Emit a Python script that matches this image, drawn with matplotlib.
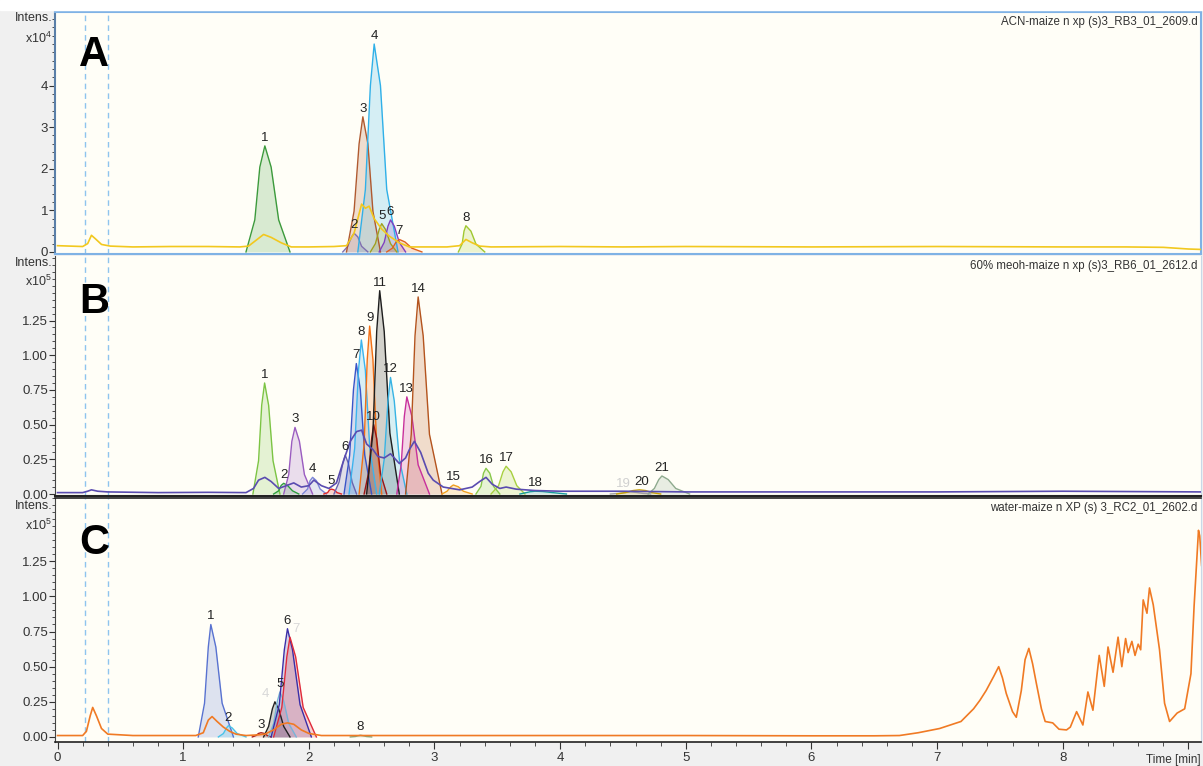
import matplotlib
matplotlib.use('Agg')
import matplotlib.pyplot as plt
from matplotlib.ticker import MultipleLocator

plt.rcParams['font.family'] = ['Liberation Sans', 'DejaVu Sans']
plt.rcParams['mathtext.default'] = 'regular'

# ---------------- data (time [min], intensity) ----------------
# Panel A (x10^4)
A_title = "ACN-maize n xp (s)3_RB3_01_2609.d"
A_labels = ['1', '2', '3', '4', '5', '6', '7', '8']
A_peaks = [
    [(1.50, 0), (1.57, 0.77), (1.61, 2.04), (1.65, 2.55), (1.70, 2.04), (1.76, 0.77), (1.85, 0)],
    [(2.27, 0), (2.31, 0.135), (2.34, 0.36), (2.36, 0.45), (2.39, 0.36), (2.42, 0.135), (2.47, 0)],
    [(2.30, 0), (2.36, 0.98), (2.40, 2.6), (2.43, 3.25), (2.47, 2.6), (2.51, 0.98), (2.57, 0)],
    [(2.39, 0), (2.45, 1.5), (2.49, 4.0), (2.52, 5.0), (2.57, 4.0), (2.62, 1.5), (2.71, 0)],
    [(2.49, 0), (2.53, 0.2), (2.56, 0.54), (2.58, 0.68), (2.61, 0.54), (2.65, 0.2), (2.70, 0)],
    [(2.56, 0), (2.60, 0.23), (2.63, 0.62), (2.65, 0.77), (2.68, 0.62), (2.72, 0.23), (2.77, 0)],
    [(2.62, 0), (2.665, 0.09), (2.695, 0.24), (2.72, 0.30), (2.765, 0.24), (2.82, 0.09), (2.90, 0)],
    [(3.19, 0), (3.22, 0.19), (3.235, 0.5), (3.25, 0.63), (3.29, 0.5), (3.33, 0.19), (3.40, 0)],
]
A_tic = [(0.0, 0.15), (0.1, 0.14), (0.2, 0.13), (0.24, 0.2), (0.27, 0.4), (0.30, 0.32), (0.35, 0.18),
         (0.42, 0.14), (0.6, 0.12), (0.9, 0.13), (1.2, 0.13), (1.45, 0.12), (1.52, 0.14), (1.58, 0.28),
         (1.64, 0.42), (1.70, 0.35), (1.78, 0.22), (1.86, 0.12), (2.0, 0.12), (2.2, 0.13), (2.30, 0.15),
         (2.36, 0.45), (2.42, 1.15), (2.45, 1.05), (2.48, 1.1), (2.52, 0.8), (2.58, 0.55), (2.64, 0.38),
         (2.72, 0.22), (2.80, 0.12), (2.9, 0.12), (3.1, 0.12), (3.2, 0.15), (3.25, 0.30), (3.30, 0.22),
         (3.36, 0.14), (3.45, 0.12), (4.0, 0.13), (4.5, 0.12), (5.0, 0.13), (6.0, 0.12), (7.0, 0.13),
         (8.0, 0.12), (8.5, 0.12), (8.8, 0.11), (9.0, 0.07), (9.1, 0.06)]

# Panel B (x10^5)
B_title = "60% meoh-maize n xp (s)3_RB6_01_2612.d"
B_labels = ['1', '2', '3', '4', '5', '6', '7', '8', '9', '10', '11', '12', '13', '14', '15',
            '16', '17', '18', '19', '20', '21']
B_peaks = [
    [(1.555, 0), (1.60, 0.24), (1.625, 0.64), (1.648, 0.80), (1.68, 0.64), (1.715, 0.24), (1.77, 0)],
    [(1.72, 0), (1.76, 0.023), (1.78, 0.062), (1.80, 0.077), (1.83, 0.062), (1.87, 0.023), (1.92, 0)],
    [(1.80, 0), (1.84, 0.14), (1.865, 0.38), (1.89, 0.48), (1.925, 0.38), (1.965, 0.14), (2.03, 0)],
    [(1.95, 0), (1.99, 0.036), (2.01, 0.096), (2.03, 0.12), (2.06, 0.096), (2.09, 0.036), (2.14, 0)],
    [(2.12, 0), (2.15, 0.01), (2.165, 0.03), (2.18, 0.035), (2.20, 0.03), (2.225, 0.01), (2.26, 0)],
    [(2.20, 0), (2.24, 0.084), (2.27, 0.22), (2.29, 0.28), (2.315, 0.22), (2.345, 0.084), (2.38, 0)],
    [(2.28, 0), (2.325, 0.28), (2.355, 0.75), (2.378, 0.94), (2.41, 0.75), (2.445, 0.28), (2.50, 0)],
    [(2.32, 0), (2.365, 0.33), (2.395, 0.89), (2.418, 1.11), (2.45, 0.89), (2.485, 0.33), (2.54, 0)],
    [(2.40, 0), (2.44, 0.36), (2.465, 0.97), (2.484, 1.21), (2.51, 0.97), (2.54, 0.36), (2.58, 0)],
    [(2.44, 0), (2.475, 0.15), (2.50, 0.40), (2.516, 0.50), (2.54, 0.40), (2.57, 0.15), (2.62, 0)],
    [(2.46, 0), (2.51, 0.44), (2.54, 1.17), (2.564, 1.465), (2.60, 1.17), (2.645, 0.44), (2.72, 0)],
    [(2.56, 0), (2.60, 0.25), (2.63, 0.67), (2.65, 0.84), (2.68, 0.67), (2.72, 0.25), (2.78, 0)],
    [(2.70, 0), (2.735, 0.21), (2.76, 0.56), (2.78, 0.70), (2.82, 0.56), (2.87, 0.21), (2.96, 0)],
    [(2.77, 0), (2.815, 0.43), (2.845, 1.14), (2.87, 1.42), (2.91, 1.14), (2.96, 0.43), (3.06, 0)],
    [(3.06, 0), (3.10, 0.02), (3.13, 0.052), (3.15, 0.065), (3.19, 0.052), (3.23, 0.02), (3.30, 0)],
    [(3.33, 0), (3.37, 0.055), (3.39, 0.15), (3.41, 0.185), (3.44, 0.15), (3.47, 0.055), (3.52, 0)],
    [(3.45, 0), (3.51, 0.06), (3.545, 0.16), (3.57, 0.20), (3.61, 0.16), (3.655, 0.06), (3.72, 0)],
    [(3.68, 0), (3.72, 0.008), (3.76, 0.016), (3.80, 0.02), (3.86, 0.018), (3.94, 0.01), (4.05, 0)],
    [(4.40, 0), (4.46, 0.004), (4.52, 0.011), (4.56, 0.015), (4.61, 0.011), (4.66, 0.004), (4.72, 0)],
    [(4.45, 0), (4.52, 0.01), (4.58, 0.025), (4.63, 0.03), (4.68, 0.025), (4.73, 0.01), (4.80, 0)],
    [(4.70, 0), (4.75, 0.04), (4.785, 0.104), (4.81, 0.13), (4.86, 0.104), (4.92, 0.04), (5.03, 0)],
]
B_tic = [(0.0, 0.01), (0.2, 0.01), (0.24, 0.02), (0.27, 0.03), (0.32, 0.02), (0.40, 0.015), (0.8, 0.01),
         (1.2, 0.012), (1.5, 0.01), (1.56, 0.04), (1.60, 0.10), (1.65, 0.12), (1.70, 0.09), (1.76, 0.04),
         (1.82, 0.06), (1.88, 0.08), (1.94, 0.05), (2.0, 0.06), (2.04, 0.10), (2.10, 0.06), (2.16, 0.04),
         (2.22, 0.08), (2.28, 0.25), (2.33, 0.38), (2.38, 0.45), (2.42, 0.46), (2.46, 0.36), (2.51, 0.32),
         (2.55, 0.27), (2.60, 0.26), (2.65, 0.29), (2.72, 0.22), (2.77, 0.26), (2.80, 0.32), (2.84, 0.38),
         (2.89, 0.30), (2.95, 0.15), (2.99, 0.10), (3.07, 0.05), (3.2, 0.03), (3.3, 0.05), (3.36, 0.09),
         (3.41, 0.12), (3.46, 0.07), (3.52, 0.04), (3.57, 0.05), (3.65, 0.035), (3.8, 0.025), (4.0, 0.02),
         (4.5, 0.02), (5.0, 0.015), (6.0, 0.015), (7.0, 0.015), (8.0, 0.02), (9.1, 0.015)]

# Panel C (x10^5)
C_title = "water-maize n XP (s) 3_RC2_01_2602.d"
C_labels = ['1', '2', '3', '4', '5', '6', '7', '8']
C_peaks = [
    [(1.12, 0), (1.17, 0.24), (1.20, 0.64), (1.22, 0.80), (1.26, 0.64), (1.31, 0.24), (1.40, 0)],
    [(1.28, 0), (1.32, 0.024), (1.345, 0.064), (1.36, 0.08), (1.39, 0.064), (1.43, 0.024), (1.50, 0)],
    [(1.55, 0), (1.58, 0.01), (1.60, 0.025), (1.62, 0.03), (1.645, 0.025), (1.67, 0.01), (1.70, 0)],
    [(1.64, 0), (1.68, 0.075), (1.71, 0.2), (1.73, 0.25), (1.76, 0.2), (1.80, 0.075), (1.85, 0)],
    [(1.68, 0), (1.72, 0.096), (1.75, 0.256), (1.77, 0.32), (1.80, 0.256), (1.84, 0.096), (1.90, 0)],
    [(1.70, 0), (1.765, 0.23), (1.805, 0.62), (1.83, 0.77), (1.87, 0.62), (1.93, 0.23), (2.02, 0)],
    [(1.72, 0), (1.785, 0.21), (1.825, 0.57), (1.85, 0.71), (1.895, 0.57), (1.955, 0.21), (2.06, 0)],
    [(2.33, 0), (2.37, 0.003), (2.395, 0.009), (2.41, 0.012), (2.43, 0.009), (2.46, 0.003), (2.50, 0)],
]
C_tic = [(0.0, 0.01), (0.2, 0.01), (0.23, 0.04), (0.26, 0.15), (0.28, 0.21), (0.31, 0.15), (0.35, 0.06),
         (0.40, 0.02), (0.6, 0.01), (0.9, 0.01), (1.1, 0.01), (1.16, 0.03), (1.20, 0.12), (1.23, 0.145),
         (1.27, 0.11), (1.32, 0.07), (1.37, 0.04), (1.42, 0.02), (1.5, 0.01), (1.6, 0.015), (1.65, 0.02),
         (1.72, 0.05), (1.78, 0.09), (1.83, 0.10), (1.88, 0.09), (1.94, 0.05), (2.0, 0.025), (2.1, 0.01),
         (2.5, 0.01), (3.0, 0.01), (4.0, 0.01), (5.0, 0.01), (6.0, 0.008), (6.5, 0.008), (6.70, 0.01),
         (6.85, 0.03), (7.02, 0.06), (7.19, 0.11), (7.29, 0.20), (7.34, 0.26), (7.39, 0.33), (7.45, 0.43),
         (7.49, 0.50), (7.52, 0.42), (7.55, 0.31), (7.60, 0.18), (7.63, 0.14), (7.67, 0.33), (7.70, 0.55),
         (7.73, 0.63), (7.76, 0.52), (7.79, 0.38), (7.83, 0.20), (7.86, 0.11), (7.92, 0.10), (7.97, 0.055),
         (8.03, 0.05), (8.06, 0.07), (8.11, 0.18), (8.16, 0.085), (8.20, 0.32), (8.24, 0.19), (8.29, 0.58),
         (8.33, 0.36), (8.36, 0.64), (8.40, 0.46), (8.44, 0.71), (8.47, 0.50), (8.50, 0.70), (8.52, 0.60),
         (8.55, 0.68), (8.575, 0.58), (8.60, 0.66), (8.62, 0.62), (8.64, 0.975), (8.67, 0.88), (8.69, 1.06),
         (8.72, 0.94), (8.77, 0.62), (8.81, 0.24), (8.85, 0.11), (8.91, 0.17), (8.97, 0.20), (9.02, 0.45),
         (9.045, 0.93), (9.08, 1.47), (9.09, 1.43), (9.105, 1.22)]

x_ticks = [0, 1, 2, 3, 4, 5, 6, 7, 8, 9]
x_ticklabels = ['0', '1', '2', '3', '4', '5', '6', '7', '8', '']
A_yticks = [0, 1, 2, 3, 4]
BC_yticks = [0.0, 0.25, 0.5, 0.75, 1.0, 1.25]
dashed_times = [0.215, 0.405]

# ---------------- styles ----------------
A_colors = ['#3c9a3c', '#8070b0', '#b05a30', '#30b0e8', '#a0a020', '#8040c0', '#e06020', '#a0c830']
B_colors = ['#7cc444', '#2e9e3e', '#9a5cc0', '#7b86d8', '#e02828', '#6a64b0', '#3a55c8', '#3cb4ee',
            '#f26f14', '#9c1414', '#1e1e1e', '#38b4e4', '#c8309c', '#b4541e', '#f0a020', '#88c84a',
            '#a8d040', '#189c9c', '#a0a0a0', '#c8a000', '#8eaa8e']
C_colors = ['#5872d0', '#48c4e8', '#a82020', '#222222', '#78b4d8', '#3a2ea8', '#e02a3a', '#80a880']
A_lab_col = ['#222222'] * 8
B_lab_col = ['#222222'] * 18 + ['#d0d0d0', '#222222', '#222222']
C_lab_col = ['#222222', '#222222', '#222222', '#d8d8d8', '#222222', '#222222', '#d8d8d8', '#222222']
# small label nudges (points) where the reference labels crowd together
B_lab_dx = {18: -5, 19: 2}
C_lab_dx = {3: -7, 6: 4}

W, H = 1203, 766
fig = plt.figure(figsize=(W / 100, H / 100), dpi=100, facecolor='#f0f0f0')
fig.patches.append(plt.Rectangle((0, 1 - 10 / H), 1, 10 / H, transform=fig.transFigure,
                                 color='white', zorder=0))

left = 55 / W
width = (1201 - 55) / W


def make_ax(top_px, bot_px):
    return fig.add_axes([left, 1 - bot_px / H, width, (bot_px - top_px) / H])


axA = make_ax(12, 254)
axB = make_ax(256, 496)
axC = make_ax(498, 742)

panel_bg = '#fffef7'
tick_col = '#333333'


def draw_panel(ax, peaks, colors, labels, lab_cols, lab_dx, tic, tic_color):
    ax.set_facecolor(panel_bg)
    for pts, col in zip(peaks, colors):
        t = [p[0] for p in pts]
        v = [p[1] for p in pts]
        ax.fill_between(t, 0, v, color=col, alpha=0.2, lw=0, zorder=2)
        ax.plot(t, v, color=col, lw=1.0, zorder=3)
    ax.plot([p[0] for p in tic], [p[1] for p in tic], color=tic_color, lw=1.2, zorder=4)
    for i, (pts, lab, lc) in enumerate(zip(peaks, labels, lab_cols)):
        apex = max(pts, key=lambda p: p[1])
        ax.annotate(lab, apex, xytext=(lab_dx.get(i, 0), 1.5), textcoords='offset points',
                    ha='center', va='bottom', fontsize=9.5, color=lc, zorder=5)
    for xt in dashed_times:
        ax.axvline(xt, color='#8ec4ee', lw=1.0, dashes=(4, 3), zorder=1)
    ax.set_xlim(-0.02, 9.10)
    ax.tick_params(axis='y', which='major', direction='out', length=4, width=0.8,
                   colors=tick_col, labelsize=9.5, pad=1)
    ax.tick_params(axis='y', which='minor', direction='out', length=2, width=0.6, colors=tick_col)


draw_panel(axA, A_peaks, A_colors, A_labels, A_lab_col, {}, A_tic, '#f2c81e')
draw_panel(axB, B_peaks, B_colors, B_labels, B_lab_col, B_lab_dx, B_tic, '#5a4cb0')
draw_panel(axC, C_peaks, C_colors, C_labels, C_lab_col, C_lab_dx, C_tic, '#f07a24')

axA.set_ylim(-0.05, 5.77)
axA.set_yticks(A_yticks)
axA.yaxis.set_minor_locator(MultipleLocator(0.2))
axB.set_ylim(-0.0144, 1.715)
axC.set_ylim(-0.036, 1.70)
for ax in (axB, axC):
    ax.set_yticks(BC_yticks)
    ax.set_yticklabels(['%.2f' % v for v in BC_yticks])
    ax.yaxis.set_minor_locator(MultipleLocator(0.05))

for ax in (axA, axB):
    ax.set_xticks([])

axC.set_xticks(x_ticks)
axC.set_xticklabels(x_ticklabels)
axC.xaxis.set_minor_locator(MultipleLocator(0.2))
axC.tick_params(axis='x', which='major', direction='out', length=5, width=0.8,
                colors=tick_col, labelsize=9.5, pad=2)
axC.tick_params(axis='x', which='minor', direction='out', length=3, width=0.6, colors=tick_col)

# spines
for s in axA.spines.values():
    s.set_color('#7fb2e5')
    s.set_linewidth(1.5)
axA.spines['left'].set_color('#5a7fa8')
axB.spines['top'].set_visible(False)
axB.spines['right'].set_color('#c8d8e8')
axB.spines['left'].set_color('#444444')
axB.spines['bottom'].set_color('#222222')
axB.spines['bottom'].set_linewidth(1.5)
axC.spines['top'].set_color('#222222')
axC.spines['top'].set_linewidth(1.2)
axC.spines['right'].set_color('#c8d8e8')
axC.spines['left'].set_color('#444444')
axC.spines['bottom'].set_color('#222222')
axC.spines['bottom'].set_linewidth(1.2)

# titles at top right
for ax, title in ((axA, A_title), (axB, B_title), (axC, C_title)):
    ax.text(0.997, 0.985, title, transform=ax.transAxes, ha='right', va='top',
            fontsize=8.3, color='#333333')

# panel letters
for ax, letter, ytop in ((axA, 'A', 0.905), (axB, 'B', 0.892), (axC, 'C', 0.898)):
    ax.text(0.021, ytop, letter, transform=ax.transAxes, ha='left', va='top',
            fontsize=30, fontweight='bold', color='black')

# y labels
for y1, y2, exp in ((18, 38, '4'), (263, 281, '5'), (506, 525, '5')):
    fig.text(52 / W, 1 - y1 / H, 'Intens.', ha='right', va='center', fontsize=9, color='#333333')
    fig.text(52 / W, 1 - y2 / H, 'x10$^{%s}$' % exp, ha='right', va='center', fontsize=9,
             color='#333333')

fig.text(1173 / W, 1 - 760 / H, 'Time [min]', ha='center', va='center', fontsize=8.5, color='#333333')

fig.savefig('out.png', dpi=100, facecolor=fig.get_facecolor())
